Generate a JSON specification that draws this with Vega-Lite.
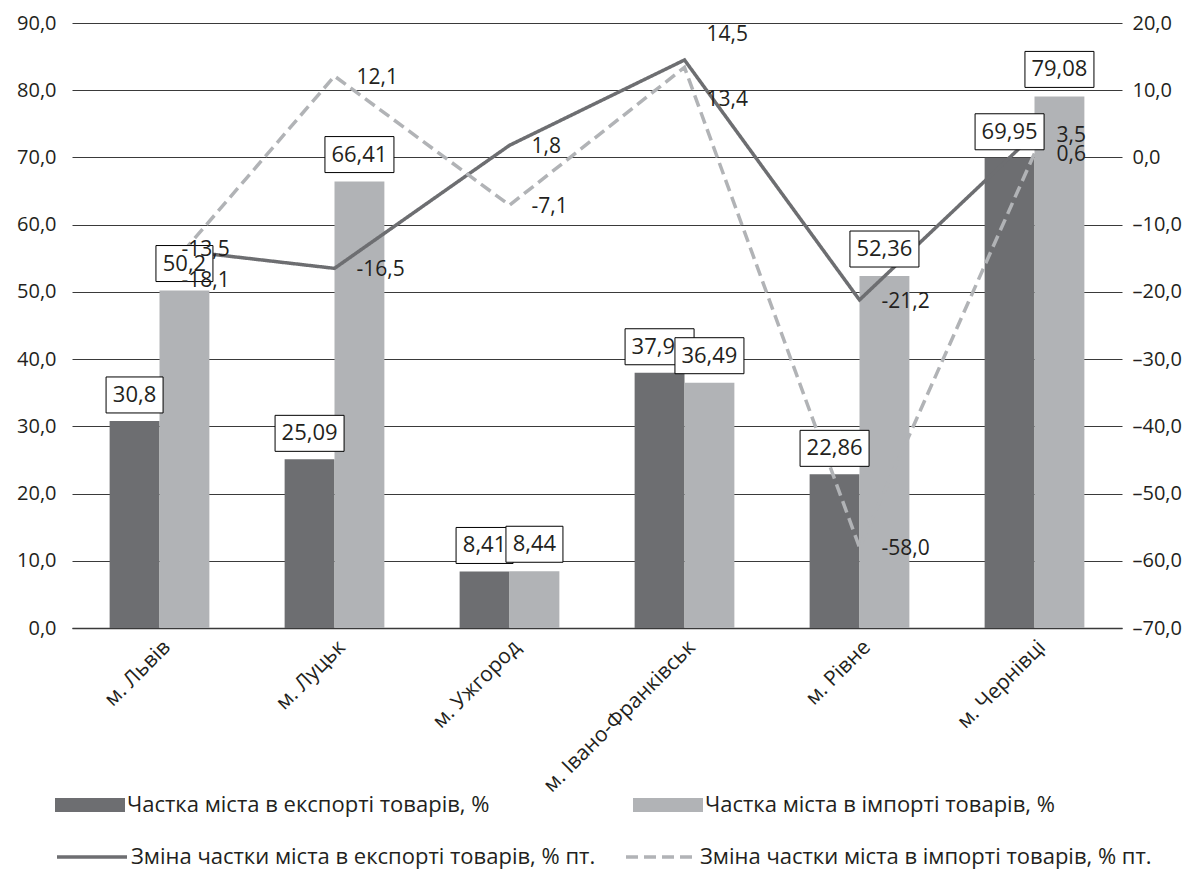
{
  "$schema": "https://vega.github.io/schema/vega-lite/v6.json",
  "autosize": {"type": "none"},
  "padding": {"top": 23, "left": 72, "right": 70, "bottom": 264},
  "width": 1050,
  "height": 605,
  "config": {
    "font": "Open Sans",
    "view": {"stroke": null},
    "locale": {"number": {"decimal": ",", "thousands": " ", "grouping": [3], "currency": ["", ""], "minus": "-"}}
  },
  "datasets": {
    "d": [
      {"city": "м. Львів", "series": "Частка міста в експорті товарів, %", "value": 30.8},
      {"city": "м. Львів", "series": "Частка міста в імпорті товарів, %", "value": 50.2},
      {"city": "м. Львів", "series": "Зміна частки міста в експорті товарів, % пт.", "value": -13.5},
      {"city": "м. Львів", "series": "Зміна частки міста в імпорті товарів, % пт.", "value": -18.1},
      {"city": "м. Луцьк", "series": "Частка міста в експорті товарів, %", "value": 25.09},
      {"city": "м. Луцьк", "series": "Частка міста в імпорті товарів, %", "value": 66.41},
      {"city": "м. Луцьк", "series": "Зміна частки міста в експорті товарів, % пт.", "value": -16.5},
      {"city": "м. Луцьк", "series": "Зміна частки міста в імпорті товарів, % пт.", "value": 12.1},
      {"city": "м. Ужгород", "series": "Частка міста в експорті товарів, %", "value": 8.41},
      {"city": "м. Ужгород", "series": "Частка міста в імпорті товарів, %", "value": 8.44},
      {"city": "м. Ужгород", "series": "Зміна частки міста в експорті товарів, % пт.", "value": 1.8},
      {"city": "м. Ужгород", "series": "Зміна частки міста в імпорті товарів, % пт.", "value": -7.1},
      {"city": "м. Івано-Франківськ", "series": "Частка міста в експорті товарів, %", "value": 37.97},
      {"city": "м. Івано-Франківськ", "series": "Частка міста в імпорті товарів, %", "value": 36.49},
      {"city": "м. Івано-Франківськ", "series": "Зміна частки міста в експорті товарів, % пт.", "value": 14.5},
      {"city": "м. Івано-Франківськ", "series": "Зміна частки міста в імпорті товарів, % пт.", "value": 13.4},
      {"city": "м. Рівне", "series": "Частка міста в експорті товарів, %", "value": 22.86},
      {"city": "м. Рівне", "series": "Частка міста в імпорті товарів, %", "value": 52.36},
      {"city": "м. Рівне", "series": "Зміна частки міста в експорті товарів, % пт.", "value": -21.2},
      {"city": "м. Рівне", "series": "Зміна частки міста в імпорті товарів, % пт.", "value": -58.0},
      {"city": "м. Чернівці", "series": "Частка міста в експорті товарів, %", "value": 69.95},
      {"city": "м. Чернівці", "series": "Частка міста в імпорті товарів, %", "value": 79.08},
      {"city": "м. Чернівці", "series": "Зміна частки міста в експорті товарів, % пт.", "value": 3.5},
      {"city": "м. Чернівці", "series": "Зміна частки міста в імпорті товарів, % пт.", "value": 0.6}
    ]
  },
  "data": {"name": "d"},
  "encoding": {
    "x": {
      "field": "city", "type": "nominal", "sort": null,
      "scale": {"paddingInner": 0.43, "paddingOuter": 0.215},
      "axis": {"title": null, "labelAngle": -45, "labelFontSize": 21, "labelLimit": 400, "labelColor": "#231f20", "ticks": false, "domainColor": "#3a3a3a", "domainWidth": 1.5, "labelPadding": 8}
    }
  },
  "layer": [
    {
      "transform": [{"filter": {"field": "series", "oneOf": ["Частка міста в експорті товарів, %", "Частка міста в імпорті товарів, %"]}}],
      "mark": {"type": "bar"},
      "encoding": {
        "xOffset": {"field": "series", "type": "nominal", "sort": null, "scale": {"domain": ["Частка міста в експорті товарів, %", "Частка міста в імпорті товарів, %"], "paddingInner": 0, "paddingOuter": 0}},
        "y": {
          "field": "value", "type": "quantitative",
          "scale": {"domain": [0, 90], "nice": false, "zero": true},
          "axis": {"orient": "left", "title": null, "values": [0, 10, 20, 30, 40, 50, 60, 70, 80, 90], "format": ".1f", "grid": true, "gridColor": "#3a3a3a", "gridWidth": 1, "domain": false, "ticks": false, "labelFontSize": 20, "labelColor": "#231f20", "labelPadding": 16}
        },
        "fill": {
          "field": "series", "type": "nominal", "sort": null,
          "scale": {"domain": ["Частка міста в експорті товарів, %", "Частка міста в імпорті товарів, %"], "range": ["#6d6e71", "#b1b3b6"]},
          "legend": {"orient": "none", "legendX": 4, "legendY": 768, "direction": "horizontal", "columns": 2, "columnPadding": 143, "symbolType": "M-2.5,-0.5H2.5V0.5H-2.5Z", "symbolSize": 784, "symbolStrokeWidth": 0, "labelOffset": 23, "labelFontSize": 22, "labelColor": "#231f20", "labelLimit": 600, "title": null}
        }
      }
    },
    {
      "transform": [{"filter": {"field": "series", "oneOf": ["Зміна частки міста в експорті товарів, % пт.", "Зміна частки міста в імпорті товарів, % пт."]}}],
      "mark": {"type": "line", "strokeWidth": 3.5},
      "encoding": {
        "y": {
          "field": "value", "type": "quantitative",
          "scale": {"domain": [-70, 20], "nice": false, "zero": false},
          "axis": {"orient": "right", "title": null, "values": [-70, -60, -50, -40, -30, -20, -10, 0, 10, 20], "format": ".1f", "labelExpr": "datum.value >= 0 ? '\u2007' + datum.label : replace(datum.label, '-', '–')", "grid": false, "domain": false, "ticks": false, "labelFontSize": 20, "labelColor": "#231f20", "labelPadding": 10, "labelAlign": "left"}
        },
        "stroke": {
          "field": "series", "type": "nominal", "sort": null,
          "scale": {"domain": ["Зміна частки міста в експорті товарів, % пт.", "Зміна частки міста в імпорті товарів, % пт."], "range": ["#6d6e71", "#b1b3b6"]},
          "legend": {"orient": "none", "legendX": 4, "legendY": 818, "direction": "horizontal", "columns": 2, "columnPadding": 23, "symbolType": "M-2.5,0H2.5", "symbolSize": 784, "symbolStrokeWidth": 3.5, "labelOffset": 23, "labelFontSize": 22, "labelColor": "#231f20", "labelLimit": 600, "title": null}
        },
        "strokeDash": {
          "field": "series", "type": "nominal", "sort": null,
          "scale": {"domain": ["Зміна частки міста в експорті товарів, % пт.", "Зміна частки міста в імпорті товарів, % пт."], "range": [[1, 0], [12, 6]]},
          "legend": {"orient": "none", "legendX": 4, "legendY": 818, "direction": "horizontal", "columns": 2, "columnPadding": 23, "symbolType": "M-2.5,0H2.5", "symbolSize": 784, "symbolStrokeWidth": 3.5, "labelOffset": 23, "labelFontSize": 22, "labelColor": "#231f20", "labelLimit": 600, "title": null}
        }
      }
    },
    {
      "encoding": {
        "xOffset": {"field": "series", "type": "nominal", "sort": null},
        "y": {"field": "value", "type": "quantitative", "scale": {"domain": [0, 90], "nice": false, "zero": true}, "axis": null}
      },
      "layer": [
        {
          "transform": [{"filter": {"field": "series", "equal": "Частка міста в експорті товарів, %"}}],
          "mark": {"type": "point", "filled": true, "fill": "white", "stroke": "black", "strokeWidth": 1, "opacity": 1, "fillOpacity": 1, "size": 400, "yOffset": -26},
          "encoding": {
            "shape": {
              "condition": {"test": "length(toString(datum.value)) < 5", "value": "M-2.85,-1.8H2.85V1.8H-2.85Z"},
              "value": "M-3.45,-1.8H3.45V1.8H-3.45Z"
            }
          }
        },
        {
          "transform": [{"filter": {"field": "series", "equal": "Частка міста в експорті товарів, %"}}],
          "mark": {"type": "text", "fontSize": 22, "color": "#231f20", "baseline": "middle", "align": "center", "yOffset": -26},
          "encoding": {"text": {"field": "value", "type": "quantitative", "format": "~f"}}
        },
        {
          "transform": [{"filter": {"field": "series", "equal": "Частка міста в імпорті товарів, %"}}],
          "mark": {"type": "point", "filled": true, "fill": "white", "stroke": "black", "strokeWidth": 1, "opacity": 1, "fillOpacity": 1, "size": 400, "yOffset": -27},
          "encoding": {
            "shape": {
              "condition": {"test": "length(toString(datum.value)) < 5", "value": "M-2.85,-1.8H2.85V1.8H-2.85Z"},
              "value": "M-3.45,-1.8H3.45V1.8H-3.45Z"
            }
          }
        },
        {
          "transform": [{"filter": {"field": "series", "equal": "Частка міста в імпорті товарів, %"}}],
          "mark": {"type": "text", "fontSize": 22, "color": "#231f20", "baseline": "middle", "align": "center", "yOffset": -27},
          "encoding": {"text": {"field": "value", "type": "quantitative", "format": "~f"}}
        }
      ]
    },
    {
      "encoding": {
        "y": {"field": "value", "type": "quantitative", "scale": {"domain": [-70, 20], "nice": false, "zero": false}, "axis": null},
        "text": {"field": "value", "type": "quantitative", "format": ".1f"}
      },
      "layer": [
        {
          "transform": [
            {"filter": {"field": "series", "oneOf": ["Зміна частки міста в експорті товарів, % пт.", "Зміна частки міста в імпорті товарів, % пт."]}},
            {"filter": {"field": "city", "oneOf": ["м. Львів", "м. Луцьк", "м. Ужгород", "м. Рівне", "м. Чернівці"]}}
          ],
          "mark": {"type": "text", "fontSize": 21, "color": "#231f20", "align": "left", "baseline": "middle", "dx": 22, "dy": 2}
        },
        {
          "transform": [
            {"filter": {"field": "series", "equal": "Зміна частки міста в експорті товарів, % пт."}},
            {"filter": {"field": "city", "equal": "м. Івано-Франківськ"}}
          ],
          "mark": {"type": "text", "fontSize": 21, "color": "#231f20", "align": "left", "baseline": "middle", "dx": 22, "dy": -25}
        },
        {
          "transform": [
            {"filter": {"field": "series", "equal": "Зміна частки міста в імпорті товарів, % пт."}},
            {"filter": {"field": "city", "equal": "м. Івано-Франківськ"}}
          ],
          "mark": {"type": "text", "fontSize": 21, "color": "#231f20", "align": "left", "baseline": "middle", "dx": 22, "dy": 33}
        }
      ]
    }
  ],
  "resolve": {"scale": {"y": "independent"}}
}
